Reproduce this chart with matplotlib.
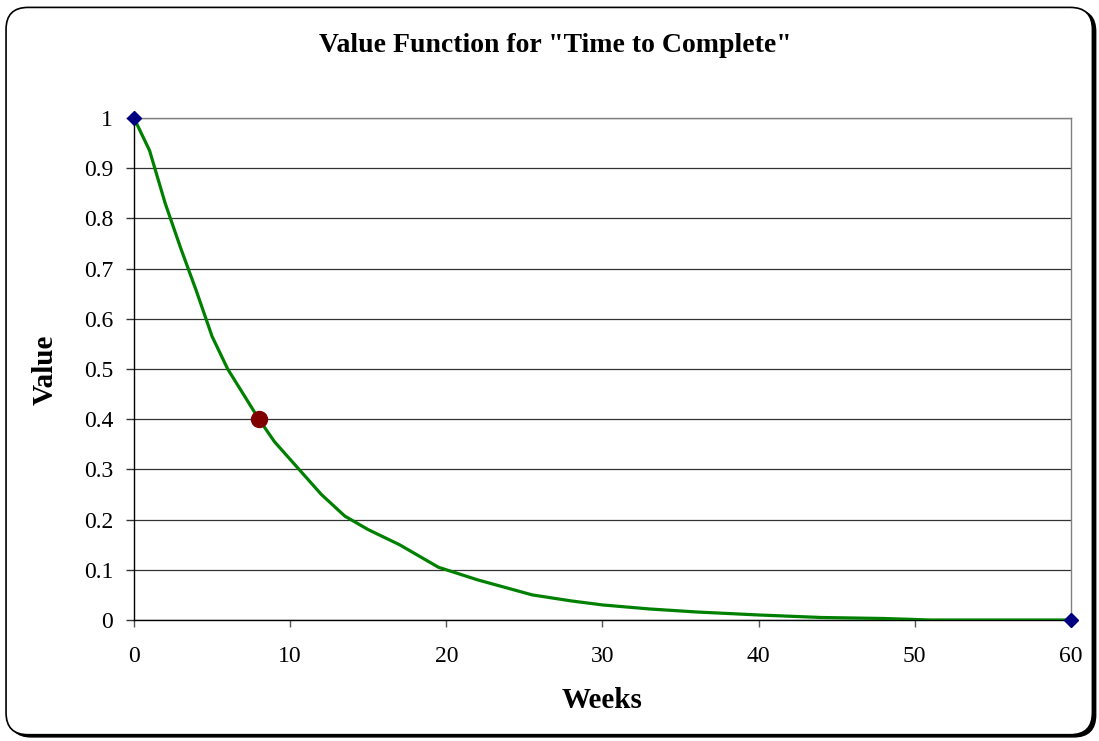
import matplotlib
matplotlib.use('Agg')
import matplotlib.pyplot as plt
from matplotlib.patches import FancyBboxPatch

# 曲线数据
weeks = [0, 1, 2, 3, 4, 5, 6, 7, 8, 9, 10, 11, 12, 13.5, 15, 17, 19.5, 22,
         25.5, 28, 30, 33, 36, 40, 44, 48, 51, 55, 60]
values = [1.0, 0.935, 0.83, 0.74, 0.655, 0.565, 0.50, 0.45, 0.40, 0.355,
          0.32, 0.285, 0.25, 0.207, 0.18, 0.15, 0.105, 0.08, 0.05, 0.038,
          0.03, 0.022, 0.016, 0.01, 0.005, 0.003, 0.0, 0.0, 0.0]
# 端点
end_weeks = [0, 60]
end_values = [1.0, 0.0]
# 当前点
point_week = [8]
point_value = [0.4]

x_ticks = [0, 10, 20, 30, 40, 50, 60]
y_ticks = [0, 0.1, 0.2, 0.3, 0.4, 0.5, 0.6, 0.7, 0.8, 0.9, 1]
y_labels = ['0', '0.1', '0.2', '0.3', '0.4', '0.5', '0.6', '0.7', '0.8', '0.9', '1']

plt.rcParams['font.family'] = ['Liberation Serif', 'DejaVu Serif']

fig = plt.figure(figsize=(10.99, 7.41), dpi=100)

# 外框 (圆角 + 阴影)
shadow = FancyBboxPatch((0.0085, 0.0055), 0.9885, 0.9815,
                        boxstyle='round,pad=0,rounding_size=0.02',
                        transform=fig.transFigure, facecolor='black',
                        edgecolor='black', lw=1, mutation_aspect=1099 / 741,
                        zorder=-2)
frame = FancyBboxPatch((0.0055, 0.0085), 0.9885, 0.9815,
                       boxstyle='round,pad=0,rounding_size=0.02',
                       transform=fig.transFigure, facecolor='white',
                       edgecolor='black', lw=1.2, mutation_aspect=1099 / 741,
                       zorder=-1)
fig.patches.append(shadow)
fig.patches.append(frame)

ax = fig.add_axes([0.1219, 0.1633, 0.8526, 0.6775])
ax.set_facecolor('white')

ax.plot(weeks, values, '-', color='#008000', lw=2.3, zorder=3)
ax.plot(end_weeks, end_values, 'D', color='#000080', ms=7, zorder=4, clip_on=False)
ax.plot(point_week, point_value, 'o', color='#800000', ms=11.5, zorder=5)

ax.set_xlim(0, 60)
ax.set_ylim(0, 1)
ax.set_xticks(x_ticks)
ax.set_yticks(y_ticks)
ax.set_yticklabels(y_labels)

# 网格线
ax.grid(axis='y', color='#333333', lw=0.9)
ax.set_axisbelow(True)

ax.spines['top'].set_color('#808080')
ax.spines['right'].set_color('#808080')
ax.spines['left'].set_color('black')
ax.spines['bottom'].set_color('black')
for s in ax.spines.values():
    s.set_linewidth(1.0)

ax.tick_params(axis='y', direction='out', length=6, width=1, pad=9, labelsize=17, color='#333333')
ax.tick_params(axis='x', direction='out', length=5, width=1, pad=14, labelsize=17, color='#555555')

fig.text(0.505, 0.939, 'Value Function for "Time to Complete"', ha='center', va='center',
         fontsize=20, fontweight='bold')
fig.text(0.548, 0.054, 'Weeks', ha='center', va='center', fontsize=21, fontweight='bold')
fig.text(0.041, 0.501, 'Value', ha='center', va='center', fontsize=21, fontweight='bold',
         rotation=90)

fig.savefig('out.png', dpi=100)
